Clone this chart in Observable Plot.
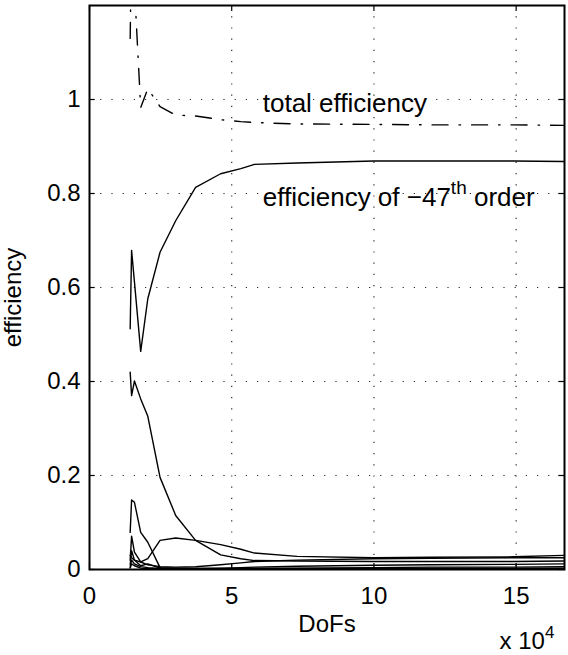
<!DOCTYPE html>
<html><head><meta charset="utf-8">
<script src="https://cdn.jsdelivr.net/npm/d3@7"></script>
<script src="https://cdn.jsdelivr.net/npm/@observablehq/plot@0.6"></script>
<style>body{margin:0;background:#fff} svg{display:block}</style>
</head><body><div id="chart"></div>
<script>
// DoFs (in units of 10^4)
const dofs = [1.43, 1.48, 1.58, 1.80, 2.05, 2.48, 3.03, 3.73, 4.61, 5.32, 5.8, 7.3, 10.0, 12.0, 14.9, 16.7];
// total efficiency (dash-dot)
const totalEff = [1.13, 1.35, 1.24, 0.983, 1.023, 0.985, 0.967, 0.965, 0.957, 0.953, 0.951, 0.948, 0.947, 0.946, 0.946, 0.945];
// efficiency of -47th order
const order47 = [0.512, 0.679, 0.612, 0.464, 0.576, 0.675, 0.742, 0.813, 0.842, 0.853, 0.862, 0.865, 0.869, 0.869, 0.869, 0.868];
// other orders
const orderB = [0.420, 0.370, 0.401, 0.363, 0.326, 0.196, 0.115, 0.062, 0.031, 0.023, 0.019, 0.018, 0.017, 0.017, 0.017, 0.018];
const orderC = [0.030, 0.025, 0.020, 0.016, 0.023, 0.062, 0.067, 0.062, 0.053, 0.043, 0.035, 0.028, 0.025, 0.026, 0.027, 0.030];
const orderD = [0.079, 0.148, 0.143, 0.079, 0.058, 0.004, 0.003, 0.002, 0.002, 0.002, 0.002, 0.002, 0.002, 0.002, 0.002, 0.002];
const orderE = [0.020, 0.071, 0.037, 0.016, 0.010, 0.006, 0.005, 0.006, 0.010, 0.014, 0.017, 0.020, 0.023, 0.024, 0.025, 0.025];
const orderF = [0.010, 0.040, 0.020, 0.008, 0.012, 0.003, 0.002, 0.002, 0.003, 0.004, 0.005, 0.007, 0.009, 0.010, 0.011, 0.012];
const orderG = [0.005, 0.020, 0.012, 0.006, 0.004, 0.002, 0.001, 0.001, 0.001, 0.002, 0.002, 0.003, 0.004, 0.005, 0.005, 0.006];
const orderH = [0.003, 0.012, 0.008, 0.003, 0.002, 0.001, 0.001, 0.001, 0.001, 0.001, 0.001, 0.001, 0.002, 0.002, 0.002, 0.002];

const xTicks = [0, 5, 10, 15];
const yTicks = [0, 0.2, 0.4, 0.6, 0.8, 1];
const xLabel = "DoFs";
const yLabel = "efficiency";
const labelTotal = "total efficiency";
const label47 = "efficiency of −47th order";
const expLabel = "x 10^4";

const toPts = arr => arr.map((v, i) => ({x: dofs[i], y: v}));
const others = [orderB, orderC, orderD, orderE, orderF, orderG, orderH]
  .flatMap((arr, k) => arr.map((v, i) => ({x: dofs[i], y: v, k})));

const gridStyle = {stroke: "#000", strokeOpacity: 0.85, strokeWidth: 1.2, strokeDasharray: "1.2,10"};

const chart = Plot.plot({
  width: 568, height: 655,
  marginLeft: 89, marginRight: 4, marginTop: 5, marginBottom: 86,
  style: {fontFamily: "'Liberation Sans', Arial, Helvetica, sans-serif", fontSize: "24px", background: "white", color: "black"},
  x: {domain: [0, 16.7]},
  y: {domain: [0, 1.2]},
  marks: [
    Plot.gridX(xTicks.slice(1), gridStyle),
    Plot.gridY(yTicks.slice(1), gridStyle),
    Plot.axisX(xTicks, {tickSize: 0, tickPadding: 17, tickFormat: d => String(d), label: null, fontSize: 24}),
    Plot.axisY(yTicks, {tickSize: 0, tickPadding: 9, tickFormat: d => String(d), label: null, fontSize: 24}),
    Plot.ruleX(xTicks, {y1: 0, y2: 0.013, stroke: "#000", strokeWidth: 1.2}),
    Plot.ruleX(xTicks, {y1: 1.2 - 0.013, y2: 1.2, stroke: "#000", strokeWidth: 1.2}),
    Plot.ruleY(yTicks, {x1: 0, x2: 0.2, stroke: "#000", strokeWidth: 1.2}),
    Plot.ruleY(yTicks, {x1: 16.7 - 0.2, x2: 16.7, stroke: "#000", strokeWidth: 1.2}),
    Plot.line(others, {x: "x", y: "y", z: "k", stroke: "#000", strokeWidth: 1.4, clip: true}),
    Plot.line(toPts(order47), {x: "x", y: "y", stroke: "#000", strokeWidth: 1.4, clip: true}),
    Plot.line(toPts(totalEff), {x: "x", y: "y", stroke: "#000", strokeWidth: 1.4, strokeDasharray: "16,11,1.5,11", clip: true}),
    Plot.text([labelTotal], {x: 6.09, y: 0.974, textAnchor: "start", lineAnchor: "bottom", fontSize: 26, fill: "#000"}),
    Plot.text([label47], {x: 6.09, y: 0.774, textAnchor: "start", lineAnchor: "bottom", fontSize: 26, fill: "#000"}),
    Plot.text([xLabel], {frameAnchor: "bottom", dy: 62, lineAnchor: "bottom", fontSize: 24, fill: "#000"}),
    Plot.text([yLabel], {frameAnchor: "left", dx: -76, dy: 10, rotate: -90, textAnchor: "middle", lineAnchor: "middle", fontSize: 24, fill: "#000"}),
    Plot.text([expLabel], {frameAnchor: "bottom-left", dx: 410, dy: 79, textAnchor: "start", lineAnchor: "bottom", fontSize: 24, fill: "#000"}),
    Plot.frame({stroke: "#000", strokeWidth: 2})
  ]
});

// superscripts as real text (tspans)
d3.select(chart).selectAll("text").each(function() {
  const t = this.textContent;
  const sel = d3.select(this);
  if (t === label47) {
    sel.text(null);
    sel.append("tspan").text("efficiency of −47");
    sel.append("tspan").attr("dy", -12).attr("font-size", 19).text("th");
    sel.append("tspan").attr("dy", 12).text(" order");
  } else if (t === expLabel) {
    sel.text(null);
    sel.append("tspan").text("x 10");
    sel.append("tspan").attr("dy", -11).attr("font-size", 17).text("4");
  }
});

document.getElementById("chart").appendChild(chart);
</script>
</body></html>
